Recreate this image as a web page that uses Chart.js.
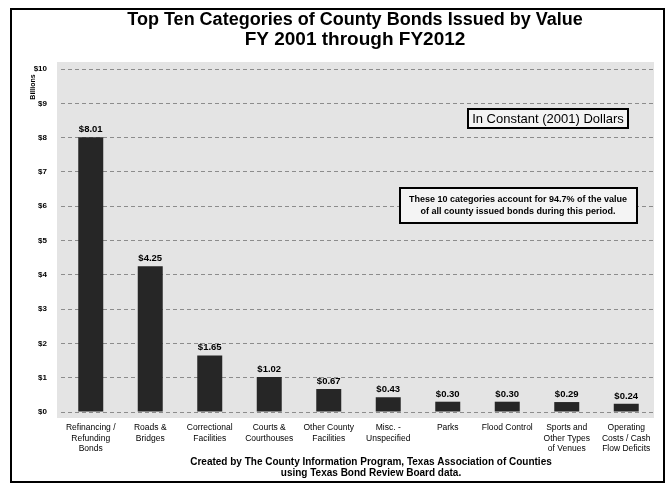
<!DOCTYPE html>
<html>
<head>
<meta charset="utf-8">
<script src="https://cdn.jsdelivr.net/npm/chart.js@4/dist/chart.umd.min.js"></script>
<style>
  html, body { margin: 0; padding: 0; background: #ffffff; }
  #wrap { width: 670px; height: 485px; }
</style>
</head>
<body>
<div id="wrap"><canvas id="c" width="670" height="485"></canvas></div>
<script>
const titleLines = ["Top Ten Categories of County Bonds Issued by Value", "FY 2001 through FY2012"];
const categories = [
  ["Refinancing /", "Refunding", "Bonds"],
  ["Roads &", "Bridges"],
  ["Correctional", "Facilities"],
  ["Courts &", "Courthouses"],
  ["Other County", "Facilities"],
  ["Misc. -", "Unspecified"],
  ["Parks"],
  ["Flood Control"],
  ["Sports and", "Other Types", "of Venues"],
  ["Operating", "Costs / Cash", "Flow Deficits"]
];
const values = [8.01, 4.25, 1.65, 1.02, 0.67, 0.43, 0.30, 0.30, 0.29, 0.24];
const valueLabels = ["$8.01", "$4.25", "$1.65", "$1.02", "$0.67", "$0.43", "$0.30", "$0.30", "$0.29", "$0.24"];
const yAxisTitle = "Billions";
const noteBox1 = ["In Constant (2001) Dollars"];
const noteBox2 = ["These 10 categories account for 94.7% of the value", "of all county issued bonds during this period."];
const footer = ["Created by The County Information Program, Texas Association of Counties", "using Texas Bond Review Board data."];

const FONT = "'Liberation Sans', Arial, Helvetica, sans-serif";

const decorPlugin = {
  id: 'decor',
  beforeDraw(chart) {
    const ctx = chart.ctx;
    const a = chart.chartArea;
    ctx.save();
    ctx.fillStyle = '#ffffff';
    ctx.fillRect(0, 0, chart.width, chart.height);
    ctx.fillStyle = '#e4e4e4';
    ctx.fillRect(a.left - 4, a.top - 7, a.right - a.left + 2, a.bottom - a.top + 13);
    ctx.restore();
  },
  afterDraw(chart) {
    const ctx = chart.ctx;
    ctx.save();
    // outer frame
    ctx.strokeStyle = '#000';
    ctx.lineWidth = 2;
    ctx.strokeRect(11, 9, 653, 473);
    // title
    ctx.fillStyle = '#000';
    ctx.textAlign = 'center';
    ctx.textBaseline = 'middle';
    ctx.font = 'bold 18px ' + FONT;
    ctx.fillText(titleLines[0], 355, 20);
    ctx.font = 'bold 19px ' + FONT;
    ctx.fillText(titleLines[1], 355, 40);
    // y axis title
    ctx.save();
    ctx.translate(33, 87);
    ctx.rotate(-Math.PI / 2);
    ctx.font = 'bold 7px ' + FONT;
    ctx.fillText(yAxisTitle, 0, 0);
    ctx.restore();
    // value labels above bars
    const meta = chart.getDatasetMeta(0);
    ctx.font = 'bold 9.5px ' + FONT;
    ctx.textBaseline = 'alphabetic';
    meta.data.forEach((bar, i) => {
      ctx.fillText(valueLabels[i], bar.x, bar.y - 5);
    });
    // note box 1
    ctx.fillStyle = '#f4f4f4';
    ctx.fillRect(468, 109, 160, 19);
    ctx.strokeStyle = '#000';
    ctx.lineWidth = 2;
    ctx.strokeRect(468, 109, 160, 19);
    ctx.fillStyle = '#000';
    ctx.font = '13px ' + FONT;
    ctx.textBaseline = 'middle';
    ctx.fillText(noteBox1[0], 548, 119);
    // note box 2
    ctx.fillStyle = '#f4f4f4';
    ctx.fillRect(400, 188, 237, 35);
    ctx.strokeRect(400, 188, 237, 35);
    ctx.fillStyle = '#000';
    ctx.font = 'bold 9px ' + FONT;
    ctx.fillText(noteBox2[0], 518, 200);
    ctx.fillText(noteBox2[1], 518, 212);
    // footer
    ctx.font = 'bold 10px ' + FONT;
    ctx.fillText(footer[0], 371, 462);
    ctx.fillText(footer[1], 371, 473);
    ctx.restore();
  }
};

new Chart(document.getElementById('c'), {
  type: 'bar',
  data: {
    labels: categories,
    datasets: [{
      data: values,
      backgroundColor: '#262626',
      borderWidth: 0,
      barPercentage: 0.42,
      categoryPercentage: 1.0
    }]
  },
  options: {
    responsive: false,
    devicePixelRatio: 1,
    animation: false,
    layout: { padding: { top: 69, right: 14, bottom: 0, left: 0 } },
    plugins: {
      legend: { display: false },
      title: { display: false },
      tooltip: { enabled: false }
    },
    scales: {
      x: {
        grid: { display: false, drawTicks: false },
        border: { display: false },
        ticks: {
          color: '#000',
          font: { family: FONT, size: 8.5 },
          padding: 11,
          maxRotation: 0,
          autoSkip: false
        },
        afterFit(scale) { scale.height = 73; }
      },
      y: {
        min: 0,
        max: 10,
        grid: { color: '#8c8c8c', lineWidth: 1, drawTicks: false },
        border: { display: false, dash: [4, 3] },
        ticks: {
          stepSize: 1,
          color: '#000',
          font: { family: FONT, size: 8, weight: 'bold' },
          padding: 14,
          callback: (v) => '$' + v
        },
        afterFit(scale) { scale.width = 61; }
      }
    }
  },
  plugins: [decorPlugin]
});
</script>
</body>
</html>
